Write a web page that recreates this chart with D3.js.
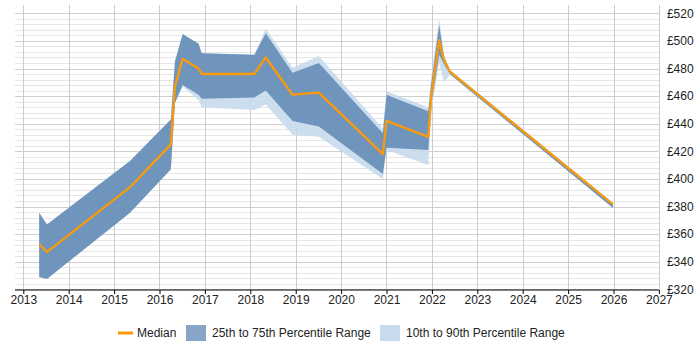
<!DOCTYPE html>
<html>
<head>
<meta charset="utf-8">
<script src="https://cdn.jsdelivr.net/npm/d3@7"></script>
<style>
  body { margin: 0; background: #fff; }
  svg { display: block; font-family: "Liberation Sans", Arial, sans-serif; }
</style>
</head>
<body>
<div id="chart"></div>
<script>
// Data (fractional years)
const dates = [2013.35, 2013.52, 2015.35, 2016.25, 2016.34, 2016.51, 2016.86, 2016.93, 2018.09, 2018.34,
  2018.93, 2019.51, 2020.92, 2021.0, 2021.92, 2021.99, 2022.16, 2022.27, 2022.4, 2025.99];
const median = [352.6, 347, 394, 425, 467, 487, 480, 476, 476, 488,
  461, 462.5, 418, 442, 430.5, 461, 500.5, 486, 477.5, 381.5];
const p25 = [329, 327.5, 375.5, 407, 455, 468, 461, 458, 459, 464,
  442, 438, 403.5, 422.5, 421, 455, 490, 483, 475.8, 379];
const p75 = [375.5, 367, 413, 443, 485, 505, 498, 491, 490, 505.5,
  477, 484, 433, 461, 449, 470, 511.5, 488, 478.5, 382.2];
const p10 = [329, 327.5, 375.5, 407, 455, 467, 457, 452, 450, 454,
  432, 430.5, 400, 421, 410, 450, 484, 470, 475.5, 379];
const p90 = [375.5, 367, 413, 443, 485, 505, 498, 491, 490, 509,
  480.5, 489, 436.5, 463.5, 452, 475, 516, 489, 479, 382.2];

const xTicks = d3.range(2013, 2028);
const yTicks = d3.range(320, 521, 20);
const yMinor = d3.range(320, 521, 4);

const legendItems = [
  { key: "median", label: "Median" },
  { key: "iqr", label: "25th to 75th Percentile Range" },
  { key: "outer", label: "10th to 90th Percentile Range" },
];

const width = 700, height = 350;
const colors = { median: "#fa9a0a", iqr: "#7095bc", outer: "#c8dbed" };

const svg = d3.select("#chart").append("svg")
  .attr("width", width)
  .attr("height", height);

const x = d3.scaleLinear().domain([2013, 2027]).range([23.3, 658.9]);
const y = d3.scaleLinear().domain([320, 520]).range([289.3, 13.3]);

const plotTop = 5, plotBottom = 289.5, plotLeft = 15;

// Minor horizontal gridlines
svg.append("g")
  .selectAll("line")
  .data(yMinor.filter(v => v % 20 !== 0))
  .join("line")
  .attr("x1", plotLeft).attr("x2", x(2027))
  .attr("y1", d => Math.round(y(d)) + 0.5).attr("y2", d => Math.round(y(d)) + 0.5)
  .attr("stroke", "#e6e6e6");

// Major horizontal gridlines
svg.append("g")
  .selectAll("line")
  .data(yTicks)
  .join("line")
  .attr("x1", plotLeft).attr("x2", x(2027))
  .attr("y1", d => Math.round(y(d)) + 0.5).attr("y2", d => Math.round(y(d)) + 0.5)
  .attr("stroke", "#cfcfcf");

// Vertical gridlines
svg.append("g")
  .selectAll("line")
  .data(xTicks)
  .join("line")
  .attr("x1", d => Math.round(x(d)) + 0.5).attr("x2", d => Math.round(x(d)) + 0.5)
  .attr("y1", plotTop).attr("y2", plotBottom)
  .attr("stroke", "#cccccc");

const rows = dates.map((d, i) => ({
  date: d, med: median[i], p10: p10[i], p25: p25[i], p75: p75[i], p90: p90[i]
}));

// 10th to 90th band
svg.append("path")
  .datum(rows)
  .attr("fill", colors.outer)
  .attr("fill-opacity", 0.9)
  .attr("d", d3.area().x(d => x(d.date)).y0(d => y(d.p10)).y1(d => y(d.p90)));

// 25th to 75th band
svg.append("path")
  .datum(rows)
  .attr("fill", colors.iqr)
  .attr("d", d3.area().x(d => x(d.date)).y0(d => y(d.p25)).y1(d => y(d.p75)));

// Median line
svg.append("path")
  .datum(rows)
  .attr("fill", "none")
  .attr("stroke", colors.median)
  .attr("stroke-width", 2.3)
  .attr("stroke-linejoin", "round")
  .attr("d", d3.line().x(d => x(d.date)).y(d => y(d.med)));

// x-axis
const xAxis = svg.append("g")
  .attr("transform", `translate(0,${plotBottom + 0.5})`)
  .call(d3.axisBottom(x).tickValues(xTicks).tickFormat(d3.format("d")).tickSize(4).tickSizeOuter(0));
xAxis.select(".domain").attr("d", `M${plotLeft},0H${x(2027)}`).attr("stroke", "#000");
xAxis.selectAll("text").attr("font-size", 12).attr("fill", "#222").attr("dy", "0.6em");

// y-axis labels on the right
const yAxis = svg.append("g")
  .attr("transform", `translate(${x(2027)},0)`)
  .call(d3.axisRight(y).tickValues(yTicks).tickFormat(d => "£" + d).tickSize(0).tickPadding(8));
yAxis.select(".domain").remove();
yAxis.selectAll("text").attr("font-size", 12).attr("fill", "#222");

// Legend
const legend = svg.append("g").attr("transform", "translate(0,333)");
const legendX = [118, 186, 380];
legendItems.forEach((item, i) => {
  const g = legend.append("g").attr("transform", `translate(${legendX[i]},0)`);
  if (item.key === "median") {
    g.append("line").attr("x1", 0).attr("x2", 15).attr("y1", 0).attr("y2", 0)
      .attr("stroke", colors.median).attr("stroke-width", 3);
    g.append("text").attr("x", 19).attr("y", 0).attr("dy", "0.35em")
      .attr("font-size", 12).attr("fill", "#222").text(item.label);
  } else {
    g.append("rect").attr("x", 0).attr("y", -8).attr("width", 20).attr("height", 16)
      .attr("fill", item.key === "iqr" ? "#87a6c7" : colors.outer);
    g.append("text").attr("x", 26).attr("y", 0).attr("dy", "0.35em")
      .attr("font-size", 12).attr("fill", "#222").text(item.label);
  }
});
</script>
</body>
</html>
